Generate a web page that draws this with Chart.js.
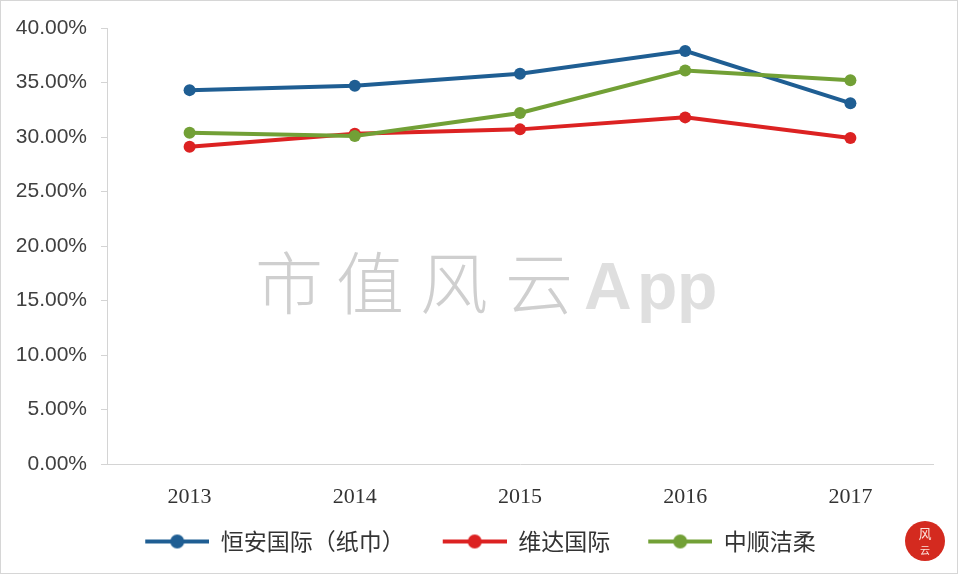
<!DOCTYPE html>
<html>
<head>
<meta charset="utf-8">
<script src="https://cdn.jsdelivr.net/npm/chart.js@4"></script>
<style>
html,body{margin:0;padding:0;background:#fff;}
canvas{display:block;}
</style>
</head>
<body>
<canvas id="c" width="958" height="574"></canvas>
<script>
const categories = ['2013', '2014', '2015', '2016', '2017'];
const hengan = [34.3, 34.7, 35.8, 37.9, 33.1];
const vinda = [29.1, 30.3, 30.7, 31.8, 29.9];
const zhongshun = [30.4, 30.1, 32.2, 36.1, 35.2];
const seriesNames = ['恒安国际（纸巾）', '维达国际', '中顺洁柔'];
const seriesColors = ['#1f5e93', '#dc2222', '#72a036'];
const yTicks = [0, 5, 10, 15, 20, 25, 30, 35, 40];
const watermark = ['市', '值', '风', '云', 'A', 'p', 'p'];

function legendIcon(color) {
  const c = document.createElement('canvas');
  c.width = 92; c.height = 22;
  const g = c.getContext('2d');
  g.strokeStyle = color; g.lineWidth = 4;
  g.beginPath(); g.moveTo(28, 11); g.lineTo(92, 11); g.stroke();
  g.fillStyle = color;
  g.beginPath(); g.arc(60, 11, 7, 0, Math.PI * 2); g.fill();
  return c;
}
const icons = seriesColors.map(legendIcon);

const decor = {
  id: 'decor',
  beforeDatasetsDraw(chart) {
    const ctx = chart.ctx;
    ctx.save();
    ctx.textBaseline = 'alphabetic';
    const xs = [255, 336, 420, 505, 584, 637, 677];
    watermark.forEach((ch, i) => {
      if (i < 4) { ctx.font = '300 68px "Noto Sans CJK SC"'; ctx.fillStyle = 'rgba(195,195,195,0.8)'; }
      else { ctx.font = 'bold 66px "Liberation Sans"'; ctx.fillStyle = 'rgba(215,215,215,0.8)'; }
      ctx.fillText(ch, xs[i], 309);
    });
    ctx.restore();
  },
  afterDraw(chart) {
    const ctx = chart.ctx;
    ctx.save();
    ctx.strokeStyle = '#d6d6d6'; ctx.lineWidth = 1;
    ctx.strokeRect(0.5, 0.5, 957, 573);
    ctx.fillStyle = '#d42a1f';
    ctx.beginPath(); ctx.arc(925, 541, 20, 0, Math.PI * 2); ctx.fill();
    ctx.fillStyle = '#fbe3dc';
    ctx.textAlign = 'center'; ctx.textBaseline = 'middle';
    ctx.font = '13px "Noto Sans CJK SC"';
    ctx.fillText('风', 925, 533);
    ctx.font = '10px "Noto Sans CJK SC"';
    ctx.fillText('云', 925, 550);
    ctx.restore();
  }
};

new Chart(document.getElementById('c'), {
  type: 'line',
  data: {
    labels: categories,
    datasets: [hengan, vinda, zhongshun].map((d, i) => ({
      label: seriesNames[i],
      data: d,
      borderColor: seriesColors[i],
      backgroundColor: seriesColors[i],
      pointBackgroundColor: seriesColors[i],
      pointBorderColor: seriesColors[i],
      borderWidth: 4,
      pointRadius: 6,
      pointBorderWidth: 0,
      tension: 0,
      order: 2 - i
    }))
  },
  options: {
    responsive: false,
    animation: false,
    devicePixelRatio: 1,
    layout: { padding: { top: 28, left: 0, right: 25, bottom: 11 } },
    plugins: {
      tooltip: { enabled: false },
      legend: {
        position: 'bottom',
        labels: {
          usePointStyle: true,
          pointStyleWidth: 92,
          padding: 10,
          color: '#333',
          font: { family: '"Noto Sans CJK SC"', size: 23 },
          generateLabels(chart) {
            return chart.data.datasets.map((ds, i) => ({
              text: ds.label,
              pointStyle: icons[i],
              fillStyle: ds.borderColor,
              strokeStyle: ds.borderColor,
              lineWidth: 0,
              hidden: false,
              datasetIndex: i,
              fontColor: '#333'
            }));
          }
        }
      }
    },
    scales: {
      x: {
        offset: true,
        grid: { display: false, drawTicks: false, offset: true },
        border: { display: true, color: '#d4d4d4', width: 1 },
        ticks: { color: '#333', padding: 20, font: { family: '"Liberation Serif"', size: 22 } },
        afterFit(s) { s.height = 56; }
      },
      y: {
        min: 0, max: 40,
        afterBuildTicks(s) { s.ticks = yTicks.map(v => ({ value: v })); },
        grid: { drawOnChartArea: false, drawTicks: true, tickLength: 6, color: '#d4d4d4' },
        border: { display: true, color: '#d4d4d4', width: 1 },
        ticks: {
          color: '#404040', padding: 14,
          font: { family: '"Liberation Sans"', size: 21 },
          callback: v => v.toFixed(2) + '%'
        },
        afterFit(s) { s.width = 107; }
      }
    }
  },
  plugins: [decor]
});
</script>
</body>
</html>
